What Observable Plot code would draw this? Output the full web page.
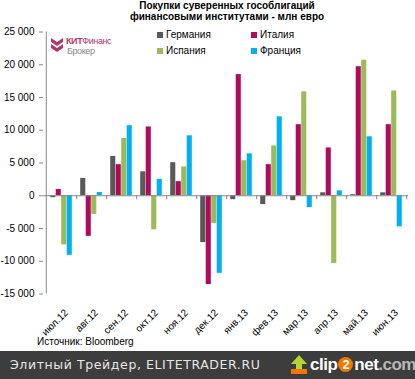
<!DOCTYPE html>
<html><head><meta charset="utf-8">
<script src="https://cdn.jsdelivr.net/npm/d3@7"></script>
<script src="https://cdn.jsdelivr.net/npm/@observablehq/plot@0.6"></script>
<style>
html,body{margin:0;padding:0;background:#fff;}
#wrap{position:relative;width:415px;height:379px;overflow:hidden;font-family:"Liberation Sans",Arial,sans-serif;color:#000;}
#chart{position:absolute;left:0;top:0;}
#title{position:absolute;left:227px;top:-0.5px;transform:translateX(-50%);white-space:nowrap;text-align:center;font-weight:bold;font-size:10px;line-height:11px;}
.leg{position:absolute;font-size:10px;line-height:12px;white-space:nowrap;}
.leg i{position:absolute;left:-9px;top:3px;width:6px;height:6px;}
#logo{position:absolute;left:51px;top:35px;}
#src{position:absolute;left:37px;top:336px;font-size:10px;}
#banner{position:absolute;left:0;top:351px;width:415px;height:28px;background:#3d3d3d;}
#bantext{position:absolute;left:10px;top:6px;font-family:"DejaVu Sans",sans-serif;font-size:12.5px;color:#e6e6e6;letter-spacing:0.6px;white-space:nowrap;}
#clip{position:absolute;left:310px;top:4px;font-family:"Liberation Sans",Arial,sans-serif;font-weight:bold;font-size:17px;line-height:20px;color:#fff;letter-spacing:-0.5px;white-space:nowrap;}
#clip .two{display:inline-block;width:15px;height:15px;border-radius:50%;background:#f07800;text-align:center;line-height:15px;font-size:13px;margin:0 1px;vertical-align:1px;}
#clip .com{color:#b8b8b8;}
.lg{position:absolute;font-family:'Liberation Sans Narrow','Liberation Sans',Arial;font-size:9px;white-space:nowrap;letter-spacing:-0.4px;}
</style></head>
<body>
<div id="wrap">
  <div id="chart"></div>
  <div id="title">Покупки суверенных гособлигаций<br>финансовыми институтами - млн евро</div>
  <div id="legend"></div>
  <div id="logo">
    <svg width="14" height="18" style="position:absolute;left:0;top:1px">
      <path d="M0,2 L6,6 L12,2 L12,6 L6,10 L0,6 Z" fill="#b5366f"/>
      <path d="M0,8 L6,12 L12,8 L12,12 L6,16 L0,12 Z" fill="#b5366f"/>
    </svg>
    <div class="lg" style="left:15px;top:1px;color:#b5366f;"><b>КИТ</b>Финанс</div>
    <div class="lg" style="left:16px;top:11px;color:#8a8a8a;">Брокер</div>
  </div>
  <div id="src">Источник: Bloomberg</div>
  <div id="banner">
    <div id="bantext">Элитный Трейдер, ELITETRADER.RU</div>
    <svg width="18" height="20" style="position:absolute;left:290px;top:4px">
      <polygon points="9,0 17,9 12,9 12,14 6,14 6,9 1,9" fill="#b5d334"/>
      <rect x="1" y="14" width="16" height="5" fill="#f07800"/>
    </svg>
    <div id="clip">clip<span class="two">2</span>net<span class="com">.com</span></div>
  </div>
</div>
<script>
const months = ["июл.12","авг.12","сен.12","окт.12","ноя.12","дек.12","янв.13","фев.13","мар.13","апр.13","май.13","июн.13"];
const seriesNames = ["Германия","Италия","Испания","Франция"];
const seriesColors = ["#595959","#b0095e","#9bbb59","#00b0f0"];
const germany = [-300, 2650, 6000, 3650, 5050, -7150, -600, -1350, -750, 450, 150, 450];
const italy   = [950, -6200, 4750, 10500, 2150, -13550, 18500, 4750, 10850, 7300, 19700, 10850];
const spain   = [-7500, -2850, 8750, -5200, 4400, -4250, 5350, 7600, 15850, -10350, 20700, 16000];
const france  = [-9100, 500, 10700, 2500, 9150, -11850, 6400, 12050, -1800, 750, 9000, -4750];
const yTicks = [-15000,-10000,-5000,0,5000,10000,15000,20000,25000];

const seriesValues = [germany, italy, spain, france];
const W = 415, H = 335, mL = 43, mR = 7, mT = 31.5, mB = 41.5;
const bw = (W - mL - mR) / months.length;
const barW = 5.5, pad = (bw - 4 * barW) / 2;
const axisGray = "#868686";
const loc = d3.formatLocale({decimal: ",", thousands: " ", grouping: [3], currency: ["", ""], minus: "-"});
const fmt = loc.format(",d");

const marks = [];
seriesValues.forEach((vals, i) => {
  const rows = months.map((m, j) => ({month: m, value: vals[j]}));
  marks.push(Plot.barY(rows, {x: "month", y: "value", fill: seriesColors[i],
    insetLeft: pad + i * barW, insetRight: bw - pad - (i + 1) * barW}));
});
marks.push(Plot.ruleY([0], {stroke: axisGray}));
marks.push(Plot.ruleX(months, {x: d => d, dx: bw / 2, y1: 0, y2: 0, insetBottom: -4, stroke: axisGray}));
marks.push(Plot.ruleX([months[0]], {x: d => d, dx: -bw / 2, y1: yTicks[0], y2: yTicks[yTicks.length - 1], stroke: axisGray}));
marks.push(Plot.axisY({ticks: yTicks, tickFormat: fmt, tickSize: 4, tickPadding: 5, stroke: axisGray, fill: "#000", fontSize: 10, label: null}));
marks.push(Plot.axisX({anchor: "bottom", tickSize: 0, tickRotate: -45, tickPadding: 17, fill: "#000", fontSize: 10, dx: 5, label: null}));

const chart = Plot.plot({
  width: W, height: H,
  marginLeft: mL, marginRight: mR, marginTop: mT, marginBottom: mB,
  x: {domain: months, padding: 0, label: null},
  y: {domain: [-15000, 25000], label: null},
  style: {fontFamily: "'Liberation Sans', Arial, sans-serif", fontSize: "10px", background: "transparent", color: "#000", overflow: "visible"},
  marks
});
document.getElementById("chart").appendChild(chart);

const legendPos = [[166, 29], [260, 29], [166, 45], [260, 45]];
const leg = document.getElementById("legend");
seriesNames.forEach((n, i) => {
  const d = document.createElement("div");
  d.className = "leg";
  d.style.left = legendPos[i][0] + "px";
  d.style.top = legendPos[i][1] + "px";
  d.innerHTML = `<i style="background:${seriesColors[i]}"></i>${n}`;
  leg.appendChild(d);
});
</script>
</body></html>
